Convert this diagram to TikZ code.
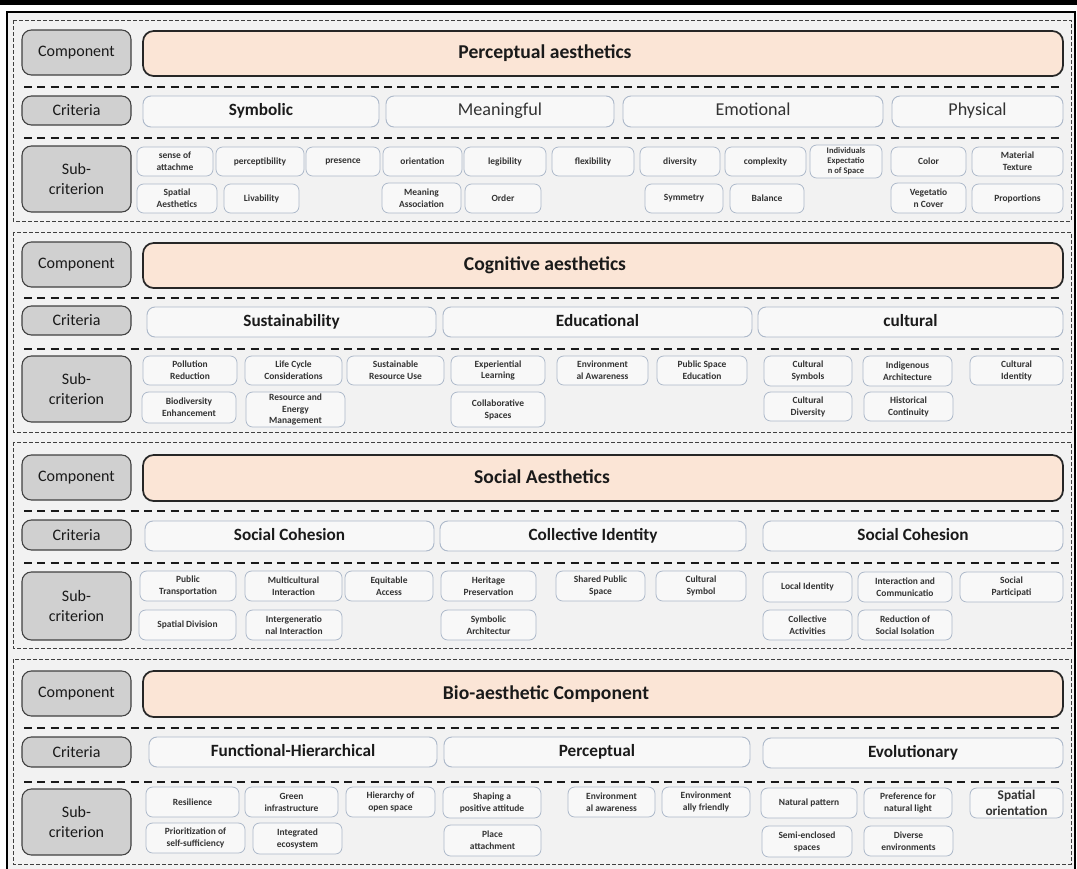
\documentclass[tikz,border=0pt]{standalone}
\usepackage{fontspec}
\setmainfont{Carlito}
\definecolor{bggray}{HTML}{F2F2F2}
\definecolor{labfill}{HTML}{D0D0D0}
\definecolor{labborder}{HTML}{404040}
\definecolor{peach}{HTML}{FBE5D6}
\definecolor{boxborder}{HTML}{ADB9CA}
\definecolor{boxfill}{HTML}{F8F8F8}
\definecolor{txt}{HTML}{1A1A1A}
\definecolor{subtxt}{HTML}{333333}
\newcommand\B[7][]{\node[#1,minimum width={(#5-#3)*0.75pt},minimum height={(#6-#4)*0.75pt}] (#2) at ({(#3+#5)/2},{(#4+#6)/2}) {#7};}
\begin{document}
\begin{tikzpicture}[x=0.75pt,y=-0.75pt,
  lab/.style={draw=labborder,fill=labfill,rounded corners=7pt,line width=0.8pt,inner sep=0pt,align=center,text=txt,font=\fontsize{12}{15}\selectfont},
  comp/.style={draw=black!85,fill=peach,rounded corners=8pt,line width=1.3pt,inner sep=0pt},
  comptitle/.style={inner sep=0pt,text height=10.5pt,text depth=3pt,text=txt,font=\bfseries\fontsize{14.7}{17}\selectfont},
  crit/.style={draw=boxborder,fill=boxfill,rounded corners=6pt,line width=0.7pt,inner sep=0pt,text height=9.3pt,text depth=2.8pt,text=txt,font=\bfseries\fontsize{12.9}{15}\selectfont},
  critn/.style={crit,text=subtxt,font=\fontsize{13.6}{15}\selectfont},
  sub/.style={draw=boxborder,fill=boxfill,rounded corners=5pt,line width=0.6pt,inner sep=0pt,align=center,text=subtxt,font=\bfseries\fontsize{7.1}{8.9}\selectfont},
  subs/.style={sub,font=\bfseries\fontsize{6.4}{7.6}\selectfont},
  subl/.style={sub,font=\bfseries\fontsize{10}{12}\selectfont},
  secbox/.style={draw=black!75,line width=0.6pt,dash pattern=on 3pt off 1.5pt},
  sepline/.style={draw=black!90,line width=1.1pt,dash pattern=on 6pt off 4pt}]
\clip (0,0) rectangle (1077,868);
\fill[white] (0,0) rectangle (1077,868);
\fill[black] (0,0) rectangle (1077,5);
\draw[fill=bggray,line width=0.9pt] (7,12) rectangle (1075,890);
% ---------------- Section 1
\draw[secbox] (13,20) rectangle (1071,221);
\B[lab]{l1a}{22}{30}{131}{75}{Component}
\B[comp]{c1}{143}{31}{1063}{76}{}
\node[comptitle] (c1t) at (545,53.5) {Perceptual aesthetics};
\coordinate (s1a) at (24,87); \coordinate (s1b) at (1063,87);
\draw[sepline] (s1a) -- (s1b);
\B[lab]{l1b}{22}{96}{131}{125}{Criteria}
\B[crit]{k1a}{143}{96}{379}{127}{Symbolic}
\B[critn]{k1b}{386}{96}{614}{127}{Meaningful}
\B[critn]{k1c}{623}{96}{883}{127}{Emotional}
\B[critn]{k1d}{892}{96}{1063}{127}{Physical}
\coordinate (s1c) at (24,138); \coordinate (s1d) at (1063,138);
\draw[sepline] (s1c) -- (s1d);
\B[lab]{l1c}{22}{146}{131}{212}{Sub-\\criterion}
\B[sub]{a1}{137}{147}{213}{176}{sense of\\attachme}
\B[sub]{a2}{216}{147}{304}{176}{perceptibility}
\B[sub]{a3}{306}{147}{380}{176}{presence}
\B[sub]{a4}{383}{147}{462}{176}{orientation}
\B[sub]{a5}{464}{147}{546}{176}{legibility}
\B[sub]{a6}{552}{147}{634}{176}{flexibility}
\B[sub]{a7}{640}{147}{720}{176}{diversity}
\B[sub]{a8}{725}{147}{806}{176}{complexity}
\B[subs]{a9}{810}{145}{882}{178}{Individuals\\Expectatio\\n of Space}
\B[sub]{a10}{891}{147}{966}{176}{Color}
\B[sub]{a11}{972}{147}{1063}{176}{Material\\Texture}
\B[sub]{b1}{137}{184}{217}{213}{Spatial\\Aesthetics}
\B[sub]{b2}{224}{184}{299}{213}{Livability}
\B[sub]{b3}{382}{183}{461}{213}{Meaning\\Association}
\B[sub]{b4}{465}{184}{541}{213}{Order}
\B[sub]{b5}{645}{184}{723}{213}{Symmetry}
\B[sub]{b6}{730}{184}{804}{213}{Balance}
\B[sub]{b7}{891}{183}{966}{213}{Vegetatio\\n Cover}
\B[sub]{b8}{972}{184}{1063}{213}{Proportions}
% ---------------- Section 2
\draw[secbox] (13,232) rectangle (1071,432);
\B[lab]{l2a}{22}{242}{131}{287}{Component}
\B[comp]{c2}{143}{243}{1063}{288}{}
\node[comptitle] (c2t) at (545,265.5) {Cognitive aesthetics};
\coordinate (s2a) at (24,298); \coordinate (s2b) at (1063,298);
\draw[sepline] (s2a) -- (s2b);
\B[lab]{l2b}{22}{306}{131}{335}{Criteria}
\B[crit]{k2a}{147}{307}{436}{337}{Sustainability}
\B[crit]{k2b}{443}{307}{752}{337}{Educational}
\B[crit]{k2c}{758}{307}{1063}{337}{cultural}
\coordinate (s2c) at (24,349); \coordinate (s2d) at (1063,349);
\draw[sepline] (s2c) -- (s2d);
\B[lab]{l2c}{22}{356}{131}{422}{Sub-\\criterion}
\B[sub]{d1}{143}{356}{237}{385}{Pollution\\Reduction}
\B[sub]{d2}{245}{356}{342}{385}{Life Cycle\\Considerations}
\B[sub]{d3}{347}{356}{444}{385}{Sustainable\\Resource Use}
\B[sub]{d4}{451}{356}{545}{385}{Experiential\\Learning}
\B[sub]{d5}{557}{356}{648}{385}{Environment\\al Awareness}
\B[sub]{d6}{657}{356}{747}{385}{Public Space\\Education}
\B[sub]{d7}{764}{356}{852}{386}{Cultural\\Symbols}
\B[sub]{d8}{863}{356}{952}{386}{Indigenous\\Architecture}
\B[sub]{d9}{970}{356}{1063}{385}{Cultural\\Identity}
\B[sub]{e1}{142}{392}{236}{423}{Biodiversity\\Enhancement}
\B[sub]{e2}{246}{392}{345}{427}{Resource and\\Energy\\Management}
\B[sub]{e3}{451}{392}{545}{427}{Collaborative\\Spaces}
\B[sub]{e4}{764}{392}{852}{421}{Cultural\\Diversity}
\B[sub]{e5}{864}{392}{953}{421}{Historical\\Continuity}
% ---------------- Section 3
\draw[secbox] (13,442) rectangle (1071,648);
\B[lab]{l3a}{22}{455}{131}{500}{Component}
\B[comp]{c3}{143}{455}{1063}{501}{}
\node[comptitle] (c3t) at (542,478) {Social Aesthetics};
\coordinate (s3a) at (24,511); \coordinate (s3b) at (1063,511);
\draw[sepline] (s3a) -- (s3b);
\B[lab]{l3b}{22}{520}{131}{550}{Criteria}
\B[crit]{k3a}{145}{521}{434}{551}{Social Cohesion}
\B[crit]{k3b}{440}{521}{746}{551}{Collective Identity}
\B[crit]{k3c}{763}{521}{1063}{551}{Social Cohesion}
\coordinate (s3c) at (24,563); \coordinate (s3d) at (1063,563);
\draw[sepline] (s3c) -- (s3d);
\B[lab]{l3c}{22}{572}{131}{640}{Sub-\\criterion}
\B[sub]{f1}{140}{571}{236}{601}{Public\\Transportation}
\B[sub]{f2}{245}{571}{342}{601}{Multicultural\\Interaction}
\B[sub]{f3}{345}{571}{433}{601}{Equitable\\Access}
\B[sub]{f4}{441}{571}{536}{601}{Heritage\\Preservation}
\B[sub]{f5}{556}{571}{645}{601}{Shared Public\\Space}
\B[sub]{f6}{656}{571}{746}{601}{Cultural\\Symbol}
\B[sub]{f7}{763}{572}{852}{602}{Local Identity}
\B[sub]{f8}{858}{572}{952}{602}{Interaction and\\Communicatio}
\B[sub]{f9}{960}{572}{1063}{602}{Social\\Participati}
\B[sub]{g1}{139}{610}{236}{640}{Spatial Division}
\B[sub]{g2}{246}{610}{342}{640}{Intergeneratio\\nal Interaction}
\B[sub]{g3}{441}{610}{536}{640}{Symbolic\\Architectur}
\B[sub]{g4}{763}{610}{852}{640}{Collective\\Activities}
\B[sub]{g5}{858}{610}{952}{640}{Reduction of\\Social Isolation}
% ---------------- Section 4
\draw[secbox] (13,659) rectangle (1071,864);
\B[lab]{l4a}{22}{671}{131}{716}{Component}
\B[comp]{c4}{143}{671}{1063}{717}{}
\node[comptitle] (c4t) at (546,694) {Bio-aesthetic Component};
\coordinate (s4a) at (24,728); \coordinate (s4b) at (1063,728);
\draw[sepline] (s4a) -- (s4b);
\B[lab]{l4b}{22}{737}{131}{767}{Criteria}
\B[crit]{k4a}{149}{737}{437}{767}{Functional-Hierarchical}
\B[crit]{k4b}{444}{737}{750}{767}{Perceptual}
\B[crit]{k4c}{763}{738}{1063}{768}{Evolutionary}
\coordinate (s4c) at (24,782); \coordinate (s4d) at (1063,782);
\draw[sepline] (s4c) -- (s4d);
\B[lab]{l4c}{22}{789}{131}{855}{Sub-\\criterion}
\B[sub]{h1}{146}{787}{239}{817}{Resilience}
\B[sub]{h2}{245}{787}{338}{817}{Green\\infrastructure}
\B[sub]{h3}{346}{787}{435}{817}{Hierarchy of\\open space}
\B[sub]{h4}{443}{787}{541}{818}{Shaping a\\positive attitude}
\B[sub]{h5}{568}{787}{655}{817}{Environment\\al awareness}
\B[sub]{h6}{662}{787}{750}{817}{Environment\\ally friendly}
\B[sub]{h7}{761}{788}{857}{818}{Natural pattern}
\B[sub]{h8}{864}{788}{952}{818}{Preference for\\natural light}
\B[subl]{h9}{970}{788}{1063}{818}{Spatial\\orientation}
\B[sub]{i1}{146}{823}{245}{853}{Prioritization of\\self-sufficiency}
\B[sub]{i2}{253}{823}{342}{854}{Integrated\\ecosystem}
\B[sub]{i3}{444}{825}{541}{856}{Place\\attachment}
\B[sub]{i4}{762}{826}{852}{857}{Semi-enclosed\\spaces}
\B[sub]{i5}{864}{826}{953}{856}{Diverse\\environments}
\end{tikzpicture}
\end{document}
